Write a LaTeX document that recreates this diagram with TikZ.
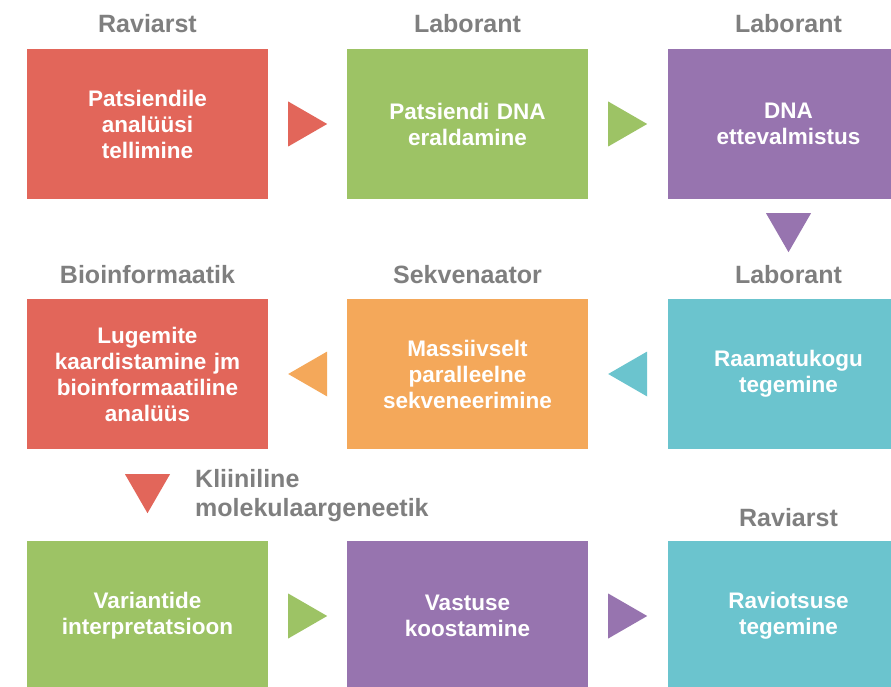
\documentclass[tikz,border=0pt]{standalone}
\usepackage{fontspec}
\setmainfont{Liberation Sans}
\usetikzlibrary{calc}
\definecolor{cred}{HTML}{E2665A}
\definecolor{cgreen}{HTML}{9DC365}
\definecolor{cpurple}{HTML}{9774AF}
\definecolor{cteal}{HTML}{6BC4CE}
\definecolor{corange}{HTML}{F4A85A}
\definecolor{cgray}{HTML}{7F7F7F}
\tikzset{
  stepbox/.style={minimum width=241pt, minimum height=150pt, inner sep=0pt, text width=225pt,
    align=center, text=white, font=\bfseries\fontsize{22.5}{26}\selectfont},
  rolelabel/.style={text=cgray, inner sep=0pt, font=\bfseries\fontsize{25}{29.5}\selectfont}
}
\newcommand\triRight[2]{\fill[#2] ($(#1)+(20,-22.5)$) -- ($(#1)+(59,0)$) -- ($(#1)+(20,22.5)$) -- cycle;}
\newcommand\triLeft[2]{\fill[#2] ($(#1)+(59,-22.5)$) -- ($(#1)+(20,0)$) -- ($(#1)+(59,22.5)$) -- cycle;}
\newcommand\triDown[3]{\fill[#2] ($(#1)+(-22.5,#3)$) -- ($(#1)+(0,#3+39)$) -- ($(#1)+(22.5,#3)$) -- cycle;}
\begin{document}
\begin{tikzpicture}[x=1pt,y=-1pt]
\clip (0,0) rectangle (891,687);
\fill[white] (0,0) rectangle (891,687);
% boxes
\node[stepbox, fill=cred]    (b1) at (147.5,124) {Patsiendile\\analüüsi\\tellimine};
\node[stepbox, fill=cgreen]  (b2) at (467.5,124) {Patsiendi DNA\\eraldamine};
\node[stepbox, fill=cpurple] (b3) at (788.5,124) {DNA\\ettevalmistus};
\node[stepbox, fill=cteal]   (b6) at (788.5,374) {Raamatukogu\\tegemine};
\node[stepbox, fill=corange] (b5) at (467.5,374) {Massiivselt\\paralleelne\\sekveneerimine};
\node[stepbox, fill=cred]    (b4) at (147.5,374) {Lugemite\\kaardistamine jm\\bioinformaatiline\\analüüs};
\node[stepbox, fill=cgreen]  (b7) at (147.5,616) {Variantide\\interpretatsioon};
\node[stepbox, fill=cpurple] (b8) at (467.5,616) {Vastuse\\koostamine};
\node[stepbox, fill=cteal]   (b9) at (788.5,616) {Raviotsuse\\tegemine};
% role labels
\node[rolelabel, anchor=base] (l1) at (147.5,33) {Raviarst};
\node[rolelabel, anchor=base] (l2) at (467.5,33) {Laborant};
\node[rolelabel, anchor=base] (l3) at (788.5,33) {Laborant};
\node[rolelabel, anchor=base] (l4) at (147.5,283) {Bioinformaatik};
\node[rolelabel, anchor=base] (l5) at (467.5,283) {Sekvenaator};
\node[rolelabel, anchor=base] (l6) at (788.5,283) {Laborant};
\node[rolelabel, anchor=north west, align=left] (l7) at (195,469) {Kliiniline\\molekulaargeneetik};
\node[rolelabel, anchor=base] (l9) at (788.5,526) {Raviarst};
% arrows
\triRight{b1.east}{cred}
\triRight{b2.east}{cgreen}
\triDown{b3.south}{cpurple}{14}
\triLeft{b5.east}{cteal}
\triLeft{b4.east}{corange}
\triDown{b4.south}{cred}{25}
\triRight{b7.east}{cgreen}
\triRight{b8.east}{cpurple}
\end{tikzpicture}
\end{document}
